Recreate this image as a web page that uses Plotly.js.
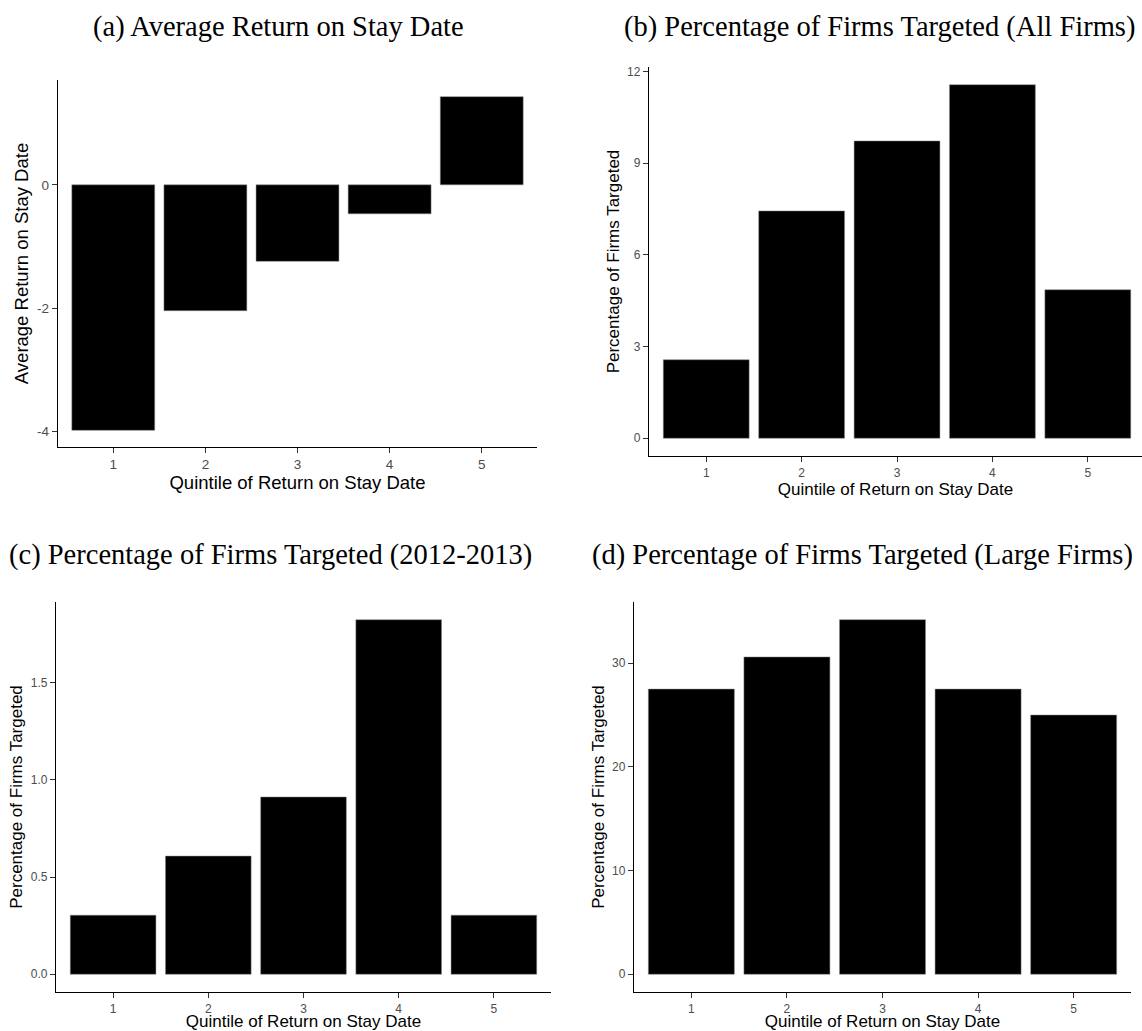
<!DOCTYPE html>
<html>
<head>
<meta charset="utf-8">
<script src="https://cdn.plot.ly/plotly-3.0.1.min.js"></script>
<style>html,body{margin:0;padding:0;background:#fff;}#chart{width:1142px;height:1031px;}</style>
</head>
<body>
<div id="chart"></div>
<script>
// ---- data ----
const quintiles = [1, 2, 3, 4, 5];
const avgReturn = [-3.98, -2.04, -1.24, -0.47, 1.43];
const pctAllFirms = [2.57, 7.44, 9.73, 11.57, 4.86];
const pct2012_2013 = [0.304, 0.608, 0.912, 1.824, 0.304];
const pctLargeFirms = [27.5, 30.6, 34.2, 27.5, 25.0];
const panelTitles = [
  "(a) Average Return on Stay Date",
  "(b) Percentage of Firms Targeted (All Firms)",
  "(c) Percentage of Firms Targeted (2012-2013)",
  "(d) Percentage of Firms Targeted (Large Firms)"
];
const xTitle = "Quintile of Return on Stay Date";
const yTitles = ["Average Return on Stay Date", "Percentage of Firms Targeted", "Percentage of Firms Targeted", "Percentage of Firms Targeted"];
const yTickVals = [[-4, -2, 0], [0, 3, 6, 9, 12], [0, 0.5, 1.0, 1.5], [0, 10, 20, 30]];
const yTickText = [["-4", "-2", "0"], ["0", "3", "6", "9", "12"], ["0.0", "0.5", "1.0", "1.5"], ["0", "10", "20", "30"]];

// ---- layout geometry (pixels) ----
const W = 1142, H = 1031, MB = 30;
const PH = H - MB; // plot-area height (top margin 0)
const panels = [
  {x0: 58, x1: 537, y0: 80, y1: 447, xr: [0.4, 5.6], yr: [-4.25, 1.70], tf: 13.5, af: 18.5, ys: 3, xs: 2},
  {x0: 649, x1: 1142, y0: 67, y1: 456, xr: [0.4, 5.568], yr: [-0.58, 12.15], tf: 12, af: 17, ys: 3, xs: 2},
  {x0: 56, x1: 551, y0: 602, y1: 992, xr: [0.4, 5.6], yr: [-0.0912, 1.915], tf: 12, af: 17, ys: 3, xs: 5},
  {x0: 634, x1: 1131, y0: 602, y1: 992, xr: [0.4, 5.6], yr: [-1.71, 35.9], tf: 12, af: 17, ys: 3, xs: 5}
];
const series = [avgReturn, pctAllFirms, pct2012_2013, pctLargeFirms];
const titlePos = [[278, 27], [880, 27], [270, 555], [862, 555]];
const fy = (py) => (PH - py) / PH;

const traces = [];
const layout = {
  width: W, height: H,
  margin: {l: 0, r: 0, t: 0, b: MB},
  paper_bgcolor: "#fff", plot_bgcolor: "#fff",
  showlegend: false,
  font: {family: "Liberation Sans, Arial, sans-serif", color: "#000"},
  annotations: []
};

panels.forEach((p, i) => {
  const n = i === 0 ? "" : String(i + 1);
  traces.push({
    type: "bar", x: quintiles, y: series[i], width: 0.9,
    xaxis: "x" + n, yaxis: "y" + n,
    marker: {color: "#000", line: {color: "#888", width: 0.5}},
    hoverinfo: "x+y"
  });
  layout["xaxis" + n] = {
    domain: [p.x0 / W, p.x1 / W], range: p.xr, anchor: "y" + n,
    tickvals: quintiles, ticktext: quintiles.map(String),
    showgrid: false, zeroline: false, showline: true, linecolor: "#000", linewidth: 1.2,
    ticks: "outside", ticklen: 5, tickwidth: 1, tickcolor: "#333",
    tickfont: {size: p.tf, color: "#4d4d4d"},
    title: {text: xTitle, font: {size: p.af, color: "#000"}, standoff: p.xs}
  };
  layout["yaxis" + n] = {
    domain: [fy(p.y1), fy(p.y0)], range: p.yr, anchor: "x" + n,
    tickvals: yTickVals[i], ticktext: yTickText[i],
    showgrid: false, zeroline: false, showline: true, linecolor: "#000", linewidth: 1.2,
    ticks: "outside", ticklen: 5, tickwidth: 1, tickcolor: "#333",
    tickfont: {size: p.tf, color: "#4d4d4d"},
    title: {text: yTitles[i], font: {size: p.af, color: "#000"}, standoff: p.ys}
  };
  layout.annotations.push({
    text: panelTitles[i], xref: "paper", yref: "paper",
    x: titlePos[i][0] / W, y: fy(titlePos[i][1]),
    xanchor: "center", yanchor: "middle", showarrow: false,
    font: {family: "Liberation Serif, Times New Roman, serif", size: 28.5, color: "#000"}
  });
});

Plotly.newPlot("chart", traces, layout, {displayModeBar: false, staticPlot: true});
</script>
</body>
</html>
